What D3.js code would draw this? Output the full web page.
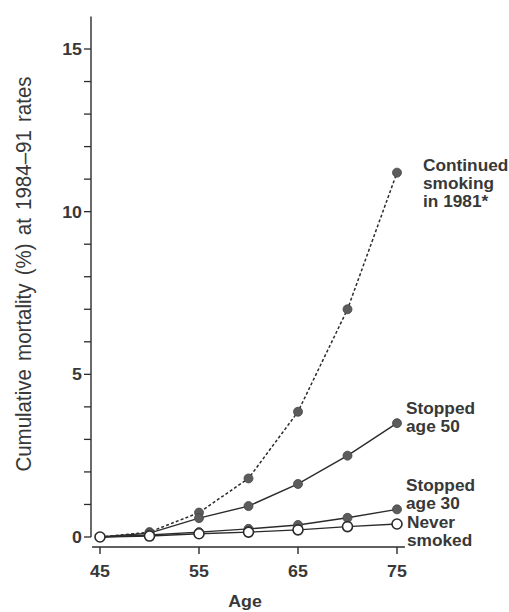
<!DOCTYPE html>
<html>
<head>
<meta charset="utf-8">
<script src="https://cdn.jsdelivr.net/npm/d3@7/dist/d3.min.js"></script>
<style>
  body { margin: 0; background: #fff; }
  text { font-family: "Liberation Sans", Arial, Helvetica, sans-serif; fill: #383838; }
</style>
</head>
<body>
<svg id="chart" width="509" height="612"></svg>
<script>
// Cumulative mortality (%) by age, at 1984–91 rates
const ages = [45, 50, 55, 60, 65, 70, 75];
const continuedSmoking = [0, 0.15, 0.75, 1.8, 3.85, 7.0, 11.2];
const stoppedAge50 = [0, 0.12, 0.58, 0.95, 1.63, 2.5, 3.5];
const stoppedAge30 = [0, 0.06, 0.15, 0.25, 0.37, 0.59, 0.85];
const neverSmoked = [0, 0.03, 0.1, 0.15, 0.22, 0.32, 0.4];

const xTickValues = [45, 55, 65, 75];
const yLabelledTicks = [0, 5, 10, 15];
const yAllTicks = d3.range(0, 16);

const labelContinued = ["Continued", "smoking", "in 1981*"];
const labelStopped50 = ["Stopped", "age 50"];
const labelStopped30 = ["Stopped", "age 30"];
const labelNever = ["Never", "smoked"];

const yTitle = "Cumulative mortality (%) at 1984\u201391 rates";
const xTitle = "Age";

const svg = d3.select("#chart");
const stretch = 1.08;   // slightly wide lettering

const x = d3.scaleLinear().domain([45, 75]).range([100, 397]);
const y = d3.scaleLinear().domain([0, 15]).range([537, 49]);

const ink = "#2b2b2b";

// y axis
const yAxis = svg.append("g").attr("transform", "translate(91,0)");
yAxis.append("line")
  .attr("x1", 0).attr("x2", 0)
  .attr("y1", y(0)).attr("y2", y(16))
  .attr("stroke", ink).attr("stroke-width", 1.4);
yAxis.selectAll("line.tick").data(yAllTicks).join("line")
  .attr("class", "tick")
  .attr("x1", -7).attr("x2", 0)
  .attr("y1", d => y(d)).attr("y2", d => y(d))
  .attr("stroke", ink).attr("stroke-width", 1.3);
yAxis.selectAll("text").data(yLabelledTicks).join("text")
  .attr("transform", d => `translate(-9,${y(d) + 6}) scale(${stretch},1)`)
  .attr("text-anchor", "end")
  .attr("font-size", 16.5).attr("font-weight", "bold")
  .text(d => d);

// x axis
const xAxis = svg.append("g").attr("transform", "translate(0,547)");
xAxis.append("line")
  .attr("x1", x(44.2)).attr("x2", x(75.8))
  .attr("y1", 0).attr("y2", 0)
  .attr("stroke", ink).attr("stroke-width", 1.6);
xAxis.selectAll("line.tick").data(xTickValues).join("line")
  .attr("class", "tick")
  .attr("x1", d => x(d)).attr("x2", d => x(d))
  .attr("y1", 0).attr("y2", 7)
  .attr("stroke", ink).attr("stroke-width", 1.4);
xAxis.selectAll("text").data(xTickValues).join("text")
  .attr("transform", d => `translate(${x(d)},30) scale(${stretch},1)`)
  .attr("text-anchor", "middle")
  .attr("font-size", 16.5).attr("font-weight", "bold")
  .text(d => d);

// axis titles
svg.append("text")
  .attr("transform", `translate(245,607) scale(${stretch},1)`)
  .attr("text-anchor", "middle")
  .attr("font-size", 16.5).attr("font-weight", "bold")
  .text(xTitle);

svg.append("text")
  .attr("transform", `translate(31,274) scale(${stretch},1) rotate(-90)`)
  .attr("text-anchor", "middle")
  .attr("font-size", 20.5)
  .attr("word-spacing", 2.5)
  .attr("fill", "#474747")
  .text(yTitle);

// series
const series = [
  { values: neverSmoked, dash: null, filled: false },
  { values: stoppedAge30, dash: null, filled: true },
  { values: stoppedAge50, dash: null, filled: true },
  { values: continuedSmoking, dash: "3,2.2", filled: true }
];

const line = d3.line().x((d, i) => x(ages[i])).y(d => y(d));

series.forEach(s => {
  svg.append("path")
    .attr("d", line(s.values))
    .attr("fill", "none")
    .attr("stroke", ink)
    .attr("stroke-width", s.dash ? 1.5 : 1.4)
    .attr("stroke-dasharray", s.dash);
});

// markers: filled ones first, open circles on top
[series[3], series[2], series[1], series[0]].forEach(s => {
  svg.append("g").selectAll("circle").data(s.values).join("circle")
    .attr("cx", (d, i) => x(ages[i]))
    .attr("cy", d => y(d))
    .attr("r", s.filled ? 4.5 : 5)
    .attr("fill", s.filled ? "#5c5c5c" : "#fff")
    .attr("stroke", s.filled ? "#444" : ink)
    .attr("stroke-width", s.filled ? 0.8 : 1.6);
});

// series labels
function addLabel(lines, lx, firstBaseline) {
  const t = svg.append("text")
    .attr("transform", `translate(${lx},${firstBaseline}) scale(${stretch},1)`)
    .attr("font-size", 16).attr("font-weight", "bold");
  lines.forEach((l, i) => {
    t.append("tspan").attr("x", 0).attr("y", i * 18).text(l);
  });
}
addLabel(labelContinued, 423, 171);
addLabel(labelStopped50, 406, 414);
addLabel(labelStopped30, 406, 491);
addLabel(labelNever, 407, 528);
</script>
</body>
</html>
